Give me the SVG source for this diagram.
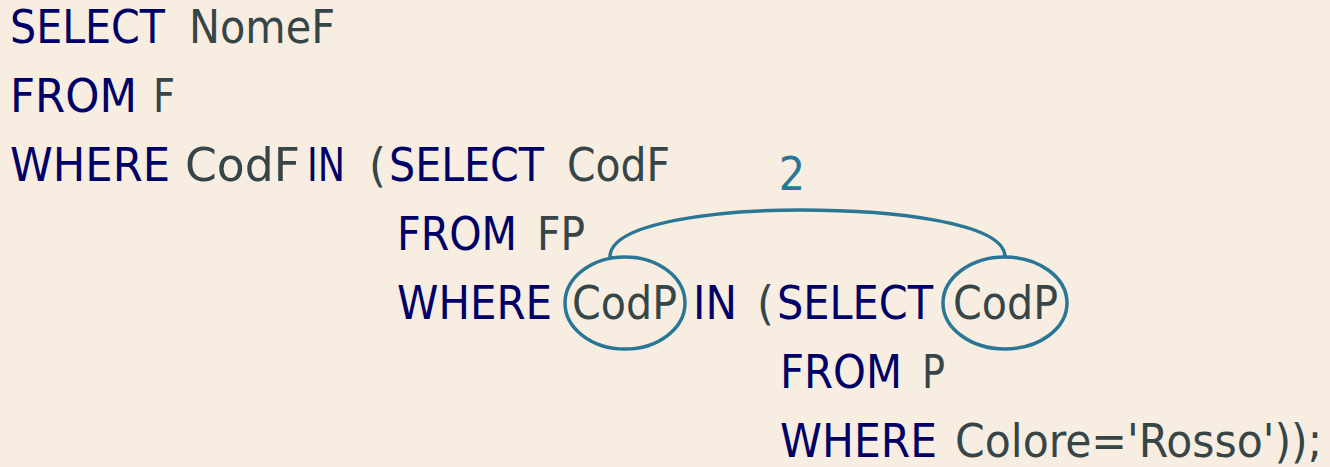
<svg xmlns="http://www.w3.org/2000/svg" width="1330" height="467" viewBox="0 0 1330 467">
<style>
text{font-family:"DejaVu Sans Condensed","DejaVu Sans",sans-serif;font-size:46px}
.k{fill:#000066}
.v{fill:#364548}
.n{fill:#2a7696}
.ann{fill:none;stroke:#2a7696;stroke-width:3.5}
</style>
<rect width="1330" height="467" fill="#f7ede0"/>
<g id="sql">
<text class="k" x="10" y="43" textLength="155" lengthAdjust="spacingAndGlyphs">SELECT</text>
<text class="v" x="189" y="43" textLength="146" lengthAdjust="spacingAndGlyphs">NomeF</text>
<text class="k" x="10" y="112" textLength="127" lengthAdjust="spacingAndGlyphs">FROM</text>
<text class="v" x="153" y="112" textLength="22" lengthAdjust="spacingAndGlyphs">F</text>
<text class="k" x="10" y="181" textLength="160" lengthAdjust="spacingAndGlyphs">WHERE</text>
<text class="v" x="185" y="181" textLength="115" lengthAdjust="spacingAndGlyphs">CodF</text>
<text class="k" x="307" y="181" textLength="38" lengthAdjust="spacingAndGlyphs">IN</text>
<text class="v" x="369" y="181" textLength="17" lengthAdjust="spacingAndGlyphs">(</text>
<text class="k" x="389" y="181" textLength="155" lengthAdjust="spacingAndGlyphs">SELECT</text>
<text class="v" x="567" y="181" textLength="103" lengthAdjust="spacingAndGlyphs">CodF</text>
<text class="k" x="397" y="250" textLength="120" lengthAdjust="spacingAndGlyphs">FROM</text>
<text class="v" x="537" y="250" textLength="48" lengthAdjust="spacingAndGlyphs">FP</text>
<text class="k" x="397" y="319" textLength="155" lengthAdjust="spacingAndGlyphs">WHERE</text>
<text class="v" x="572" y="319" textLength="105" lengthAdjust="spacingAndGlyphs">CodP</text>
<text class="k" x="693" y="319" textLength="44" lengthAdjust="spacingAndGlyphs">IN</text>
<text class="v" x="757" y="319" textLength="17" lengthAdjust="spacingAndGlyphs">(</text>
<text class="k" x="777" y="319" textLength="156" lengthAdjust="spacingAndGlyphs">SELECT</text>
<text class="v" x="953" y="319" textLength="105" lengthAdjust="spacingAndGlyphs">CodP</text>
<text class="k" x="780" y="388" textLength="122" lengthAdjust="spacingAndGlyphs">FROM</text>
<text class="v" x="922" y="388" textLength="23" lengthAdjust="spacingAndGlyphs">P</text>
<text class="k" x="780" y="457" textLength="157" lengthAdjust="spacingAndGlyphs">WHERE</text>
<text class="v" x="955" y="457" textLength="367" lengthAdjust="spacingAndGlyphs">Colore='Rosso'));</text>
</g>
<g id="annotation">
<ellipse class="ann" cx="625" cy="303" rx="60" ry="46"/>
<ellipse class="ann" cx="1005" cy="303" rx="62" ry="46"/>
<path class="ann" d="M610,257 C610,222 720,210 800,210 C890,210 1005,222 1005,257"/>
<text class="n" x="792" y="190" text-anchor="middle">2</text>
</g>
</svg>
